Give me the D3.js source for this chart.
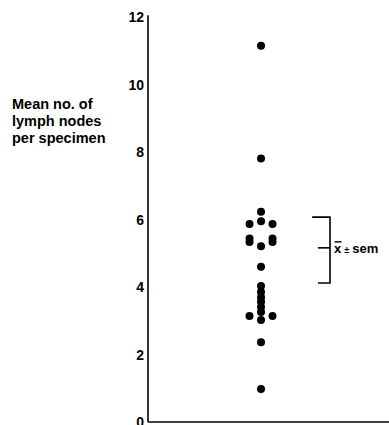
<!DOCTYPE html>
<html>
<head>
<meta charset="utf-8">
<script src="https://cdn.jsdelivr.net/npm/d3@7"></script>
<style>
  body { margin: 0; background: #fff; }
  svg { display: block; font-family: "Liberation Sans", Arial, sans-serif; font-weight: bold; }
</style>
</head>
<body>
<div id="chart"></div>
<script>
// lymph node counts (value, column slot)
const nodeValues = [11.15, 7.81, 6.23, 5.95, 5.87, 5.87, 5.44, 5.33, 5.44, 5.33, 5.21, 4.60,
  4.03, 3.85, 3.70, 3.56, 3.41, 3.26, 3.02, 3.14, 3.14, 2.36, 0.98];
const nodeSlots = [0, 0, 0, 0, -1, 1, -1, -1, 1, 1, 0, 0,
  0, 0, 0, 0, 0, 0, 0, -1, 1, 0, 0];
const yTicks = [0, 2, 4, 6, 8, 10, 12];
const labelLines = ["Mean no. of", "lymph nodes", "per specimen"];
// bracket: mean and mean ± sem as drawn
const bracketMean = 5.16;
const bracketLow = 4.12;
const bracketHigh = 6.07;

const width = 389, height = 425;
const svg = d3.select("#chart").append("svg")
  .attr("width", width)
  .attr("height", height);

const y = d3.scaleLinear().domain([0, 12]).range([422, 17]);
const x = d3.scaleLinear().domain([-9.83, 11.13]).range([148, 389]);

// axes lines
svg.append("line")
  .attr("x1", x(-9.83)).attr("x2", x(-9.83))
  .attr("y1", y(12.05)).attr("y2", y(0))
  .attr("stroke", "#000").attr("stroke-width", 1.6);
svg.append("line")
  .attr("x1", x(-9.83)).attr("x2", width)
  .attr("y1", y(0)).attr("y2", y(0))
  .attr("stroke", "#000").attr("stroke-width", 1.6);

// tick labels (no tick marks)
svg.append("g").selectAll("text")
  .data(yTicks)
  .join("text")
  .attr("x", 144)
  .attr("y", d => y(d))
  .attr("dy", "0.36em")
  .attr("text-anchor", "end")
  .attr("font-size", 14)
  .attr("fill", "#000")
  .text(d => d);

// y label
svg.append("g").selectAll("text")
  .data(labelLines)
  .join("text")
  .attr("x", 12)
  .attr("y", (d, i) => 108.5 + i * 17.2)
  .attr("font-size", 14.5)
  .attr("fill", "#000")
  .text(d => d);

// dots
svg.append("g").selectAll("circle")
  .data(nodeValues)
  .join("circle")
  .attr("cx", (d, i) => x(nodeSlots[i]))
  .attr("cy", d => y(d))
  .attr("r", 4)
  .attr("fill", "#000");

// mean ± sem bracket
const bx = x(6);
const br = svg.append("g").attr("stroke", "#000").attr("stroke-width", 1.6).attr("fill", "none");
br.append("path")
  .attr("d", `M${x(4.45)},${y(bracketHigh)}H${bx}V${y(bracketLow)}H${x(4.95)}`);
br.append("line")
  .attr("x1", x(4.95)).attr("x2", bx)
  .attr("y1", y(bracketMean)).attr("y2", y(bracketMean));

const lbl = svg.append("text")
  .attr("x", bx + 4)
  .attr("y", y(bracketMean) + 5)
  .attr("font-size", 13)
  .attr("fill", "#000");
lbl.append("tspan").attr("id", "xbar").text("x");
lbl.append("tspan").attr("font-size", 9).attr("dx", 3).text("±");
lbl.append("tspan").attr("dx", 3).text("sem");

// overline on the x
const xb = document.getElementById("xbar").getBBox();
svg.append("line")
  .attr("x1", xb.x + 0.5).attr("x2", xb.x + xb.width - 0.5)
  .attr("y1", xb.y + 1).attr("y2", xb.y + 1)
  .attr("stroke", "#000").attr("stroke-width", 1.4);
</script>
</body>
</html>
